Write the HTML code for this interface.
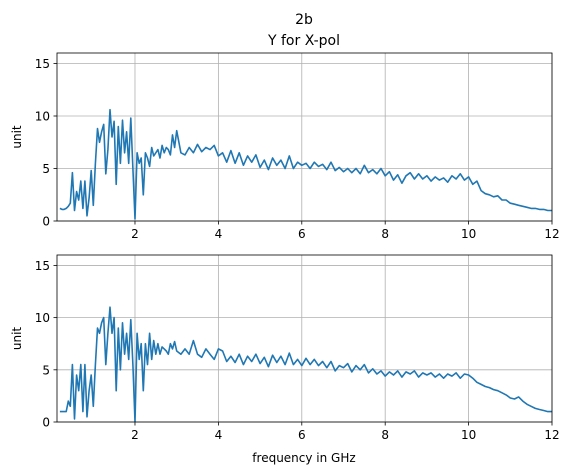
<!DOCTYPE html>
<html><head><meta charset="utf-8"><style>
body{margin:0;background:#fff}
svg{display:block;font-family:"DejaVu Sans","Liberation Sans",sans-serif}
</style></head><body>
<svg id="chart" width="571" height="476" viewBox="0 0 571 476">
<text x="304" y="24" font-size="14" text-anchor="middle">2b</text>
<text x="304" y="45" font-size="14" text-anchor="middle">Y for X-pol</text>
<g id="top"></g>
<g id="bot"></g>
<text x="304" y="462" font-size="12" text-anchor="middle">frequency in GHz</text>
</svg>
<script>
const xTicks=[2,4,6,8,10,12];
const yTicks=[0,5,10,15];
const topEarly=[1.2,1.1,1.1,1.2,1.4,1.7,4.6,1.0,2.8,2.0,3.8,1.2,3.8,0.5,2.2,4.8,1.5,5.5,8.8,7.5,8.5,9.2,4.5,6.8,10.6,8.0,9.5,3.5,9.0,5.5,9.6,6.5,8.5,5.5,9.8,5.0,0.2,6.5,5.5,6.0,2.5,6.5,6.0,5.2,7.0,6.2,6.5,6.8,6.0,7.2,6.5,7.0,6.8,6.3,8.2,7.0,8.6];
const topLate=[6.5,6.3,7.0,6.5,7.3,6.6,7.0,6.8,7.2,6.2,6.5,5.6,6.7,5.5,6.5,5.3,6.2,5.6,6.3,5.1,5.8,4.9,6.0,5.3,5.8,5.0,6.2,5.0,5.6,5.3,5.5,5.0,5.6,5.2,5.4,4.9,5.6,4.8,5.1,4.7,5.0,4.6,5.0,4.5,5.3,4.6,4.9,4.5,5.0,4.3,4.7,3.9,4.4,3.6,4.3,4.6,4.0,4.5,4.0,4.3,3.8,4.2,3.9,4.1,3.7,4.3,4.0,4.5,3.9,4.2,3.5,3.8,2.9,2.6,2.5,2.3,2.4,2.0,2.0,1.7,1.6,1.5,1.4,1.3,1.2,1.2,1.1,1.1,1.0,1.0];
const botEarly=[1.0,1.0,1.0,1.0,2.0,1.5,5.5,0.3,4.5,3.0,5.5,1.0,5.5,0.5,3.0,4.5,1.5,5.5,9.0,8.5,9.5,10.0,5.5,8.5,11.0,8.5,10.0,3.0,9.0,5.0,9.5,6.5,8.5,6.0,9.8,5.5,0.0,8.5,6.0,7.5,3.0,7.5,5.5,8.5,6.0,7.8,6.5,7.5,6.5,7.2,7.0,6.8,6.5,7.5,7.0,7.7,6.8];
const botLate=[6.5,7.0,6.5,7.8,6.5,6.2,7.0,6.5,6.0,7.0,6.8,5.8,6.3,5.7,6.5,5.5,6.3,5.8,6.5,5.6,6.2,5.3,6.4,5.7,6.3,5.5,6.6,5.5,6.0,5.4,6.1,5.5,6.0,5.4,5.8,5.2,5.8,4.9,5.4,5.2,5.6,4.8,5.4,5.0,5.5,4.7,5.1,4.6,4.9,4.4,4.8,4.5,4.9,4.3,4.8,4.6,4.9,4.3,4.7,4.5,4.7,4.3,4.6,4.2,4.6,4.4,4.7,4.2,4.6,4.5,4.2,3.8,3.6,3.4,3.3,3.1,3.0,2.8,2.6,2.3,2.2,2.4,2.0,1.7,1.5,1.3,1.2,1.1,1.0,1.0];
const NS='http://www.w3.org/2000/svg';
function mk(tag,attrs,parent){const e=document.createElementNS(NS,tag);for(const k in attrs)e.setAttribute(k,attrs[k]);parent.appendChild(e);return e;}
function drawAxes(g,top,bottom,early,late){
  const L=57,R=552,x0=0.13,x1=12,y0=0,y1=16;
  const sx=v=>L+(v-x0)/(x1-x0)*(R-L);
  const sy=v=>bottom-(v-y0)/(y1-y0)*(bottom-top);
  xTicks.forEach(t=>{
    const l=mk('line',{x1:sx(t),x2:sx(t),y1:top,y2:bottom,stroke:'#b0b0b0','stroke-width':0.8},g);
    
    
    mk('line',{x1:sx(t),x2:sx(t),y1:bottom,y2:bottom+3.5,stroke:'#000','stroke-width':0.8},g);
    const tx=mk('text',{x:sx(t),y:bottom+17,'font-size':12,'text-anchor':'middle'},g);
    tx.textContent=t;
    
    
  });
  yTicks.forEach(t=>{
    const l=mk('line',{x1:L,x2:R,y1:sy(t),y2:sy(t),stroke:'#b0b0b0','stroke-width':0.8},g);
    
    
    mk('line',{x1:L-3.5,x2:L,y1:sy(t),y2:sy(t),stroke:'#000','stroke-width':0.8},g);
    const tx=mk('text',{x:L-7,y:sy(t)+4.5,'font-size':12,'text-anchor':'end'},g);
    tx.textContent=t;
    
    
  });
  const pts=[];
  early.forEach((v,i)=>pts.push([0.2+0.05*i,v]));
  late.forEach((v,j)=>pts.push([3.1+0.1*j,v]));
  const cid='c'+top;
  const cp=mk('clipPath',{id:cid},g);mk('rect',{x:L,y:top,width:R-L,height:bottom-top},cp);
  const p=mk('polyline',{points:pts.map(q=>sx(q[0]).toFixed(1)+','+sy(q[1]).toFixed(1)).join(' '),fill:'none',stroke:'#1f77b4','stroke-width':1.6,'stroke-linejoin':'round','clip-path':'url(#'+cid+')'},g);
  
  
  const fr=mk('rect',{x:L,y:top,width:R-L,height:bottom-top,fill:'none',stroke:'#000','stroke-width':0.8},g);
  
  
  const yl=mk('text',{x:0,y:0,'font-size':12,'text-anchor':'middle',transform:'translate(21,'+((top+bottom)/2)+') rotate(-90)'},g);
  yl.textContent='unit';
  
  
}
drawAxes(document.getElementById('top'),53,221,topEarly,topLate);
drawAxes(document.getElementById('bot'),255,422,botEarly,botLate);
</script>
</body></html>
